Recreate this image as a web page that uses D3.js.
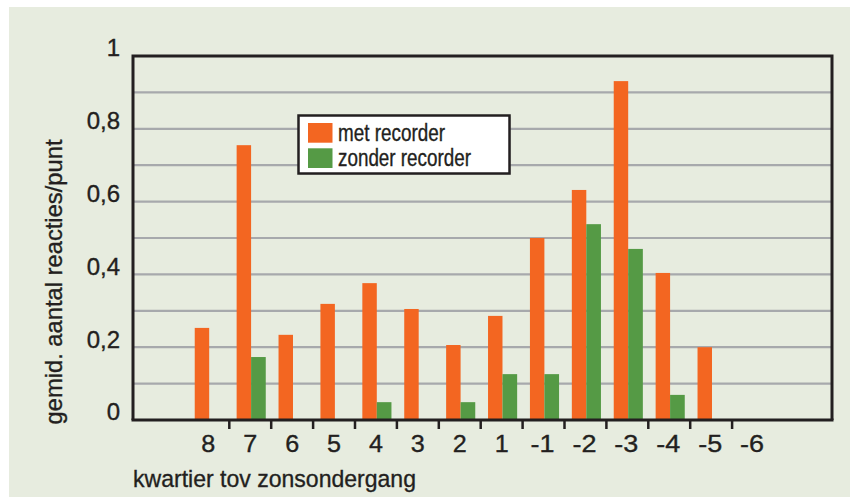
<!DOCTYPE html>
<html>
<head>
<meta charset="utf-8">
<script src="https://cdn.jsdelivr.net/npm/d3@7"></script>
<style>
  html, body { margin: 0; padding: 0; background: #ffffff; }
  svg { display: block; }
  text { font-family: "Liberation Sans", Arial, sans-serif; fill: #231f20; stroke: #231f20; stroke-width: 0.35px; }
</style>
</head>
<body>
<svg id="chart" width="850" height="497"></svg>
<script>
// ---- data ----
const categories = ["8", "7", "6", "5", "4", "3", "2", "1", "-1", "-2", "-3", "-4", "-5", "-6"];
const metRecorder =    [0.253, 0.755, 0.234, 0.319, 0.376, 0.305, 0.206, 0.286, 0.500, 0.632, 0.931, 0.404, 0.200, 0];
const zonderRecorder = [0,     0.173, 0,     0,     0.049, 0,     0.049, 0.126, 0.126, 0.538, 0.470, 0.069, 0,     0];
const yTickValues = [0, 0.2, 0.4, 0.6, 0.8, 1];
const yTickLabels = ["0", "0,2", "0,4", "0,6", "0,8", "1"];
const gridValues = [0.1, 0.2, 0.3, 0.4, 0.5, 0.6, 0.7, 0.8, 0.9];
const seriesNames = ["met recorder", "zonder recorder"];
const colors = ["#f36621", "#559a45"];
const yTitle = "gemid. aantal reacties/punt";
const xTitle = "kwartier tov zonsondergang";

// ---- layout ----
const svg = d3.select("#chart");
const plot = { left: 133, right: 832, top: 56, bottom: 420 };

svg.append("rect").attr("x", 9).attr("y", 7).attr("width", 841).attr("height", 490).attr("fill", "#e7ecdf");

const y = d3.scaleLinear().domain([0, 1]).range([plot.bottom, plot.top]);
const x = d3.scaleBand().domain(categories).range([187.4, 774]).padding(0);
const bw = x.bandwidth();

// gridlines
svg.append("g").selectAll("line").data(gridValues).join("line")
  .attr("x1", plot.left).attr("x2", plot.right)
  .attr("y1", d => y(d)).attr("y2", d => y(d))
  .attr("stroke", "#a7a9ac").attr("stroke-width", 2.2);

// bars
const rows = categories.map((c, i) => ({ c, met: metRecorder[i], zonder: zonderRecorder[i] }));
svg.append("g").selectAll("rect").data(rows.filter(d => d.met > 0)).join("rect")
  .attr("x", d => x(d.c) + bw * 0.175).attr("width", bw * 0.345)
  .attr("y", d => y(d.met)).attr("height", d => y(0) - y(d.met))
  .attr("fill", colors[0]);
svg.append("g").selectAll("rect").data(rows.filter(d => d.zonder > 0)).join("rect")
  .attr("x", d => x(d.c) + bw * 0.52).attr("width", bw * 0.35)
  .attr("y", d => y(d.zonder)).attr("height", d => y(0) - y(d.zonder))
  .attr("fill", colors[1]);

// frame (left, top, right)
svg.append("path")
  .attr("d", `M${plot.left},${plot.bottom} L${plot.left},${plot.top} L${plot.right},${plot.top} L${plot.right},${plot.bottom}`)
  .attr("fill", "none").attr("stroke", "#231f20").attr("stroke-width", 3);

// x axis
const xAxis = svg.append("g").attr("transform", `translate(0,${plot.bottom})`);
xAxis.append("line").attr("x1", plot.left - 1.5).attr("x2", plot.right + 1.5)
  .attr("y1", 0).attr("y2", 0).attr("stroke", "#231f20").attr("stroke-width", 3);
xAxis.selectAll("line.tick").data(categories.slice(1)).join("line").attr("class", "tick")
  .attr("x1", d => x(d)).attr("x2", d => x(d))
  .attr("y1", 0).attr("y2", 9)
  .attr("stroke", "#231f20").attr("stroke-width", 2.5);
xAxis.selectAll("text").data(categories).join("text")
  .attr("x", d => x(d) + bw / 2 + (d.startsWith("-") ? -1 : 0)).attr("y", 32)
  .attr("text-anchor", "middle").attr("font-size", 24)
  .attr("textLength", d => d.startsWith("-") ? 24 : 14).attr("lengthAdjust", "spacingAndGlyphs")
  .text(d => d);

// y labels
svg.append("g").selectAll("text").data(yTickValues).join("text")
  .attr("x", 120).attr("y", d => y(d) - 8)
  .attr("dy", "0.35em").attr("text-anchor", "end").attr("font-size", 24)
  .text((d, i) => yTickLabels[i]);

// titles
svg.append("text")
  .attr("transform", "translate(62,282) rotate(-90)")
  .attr("text-anchor", "middle").attr("font-size", 24)
  .attr("textLength", 285).attr("lengthAdjust", "spacingAndGlyphs")
  .text(yTitle);
svg.append("text")
  .attr("x", 133).attr("y", 487)
  .attr("font-size", 24.5)
  .attr("textLength", 283).attr("lengthAdjust", "spacingAndGlyphs")
  .text(xTitle);

// legend
const lg = svg.append("g");
lg.append("rect").attr("x", 299.5).attr("y", 116.5).attr("width", 211).attr("height", 58)
  .attr("fill", "#a7a9ac").attr("opacity", 0.6);
lg.append("rect").attr("x", 298.5).attr("y", 115.5).attr("width", 211).attr("height", 58)
  .attr("fill", "#ffffff").attr("stroke", "#231f20").attr("stroke-width", 2.5);
const lgY = [123, 148.3];
const lgBase = [140.5, 166];
const lgLen = [107, 133];
seriesNames.forEach((name, i) => {
  lg.append("rect").attr("x", 308).attr("y", lgY[i]).attr("width", 24.5).attr("height", 19.7).attr("fill", colors[i]);
  lg.append("text").attr("x", 338).attr("y", lgBase[i]).attr("font-size", 23)
    .attr("textLength", lgLen[i]).attr("lengthAdjust", "spacingAndGlyphs")
    .text(name);
});
</script>
</body>
</html>
